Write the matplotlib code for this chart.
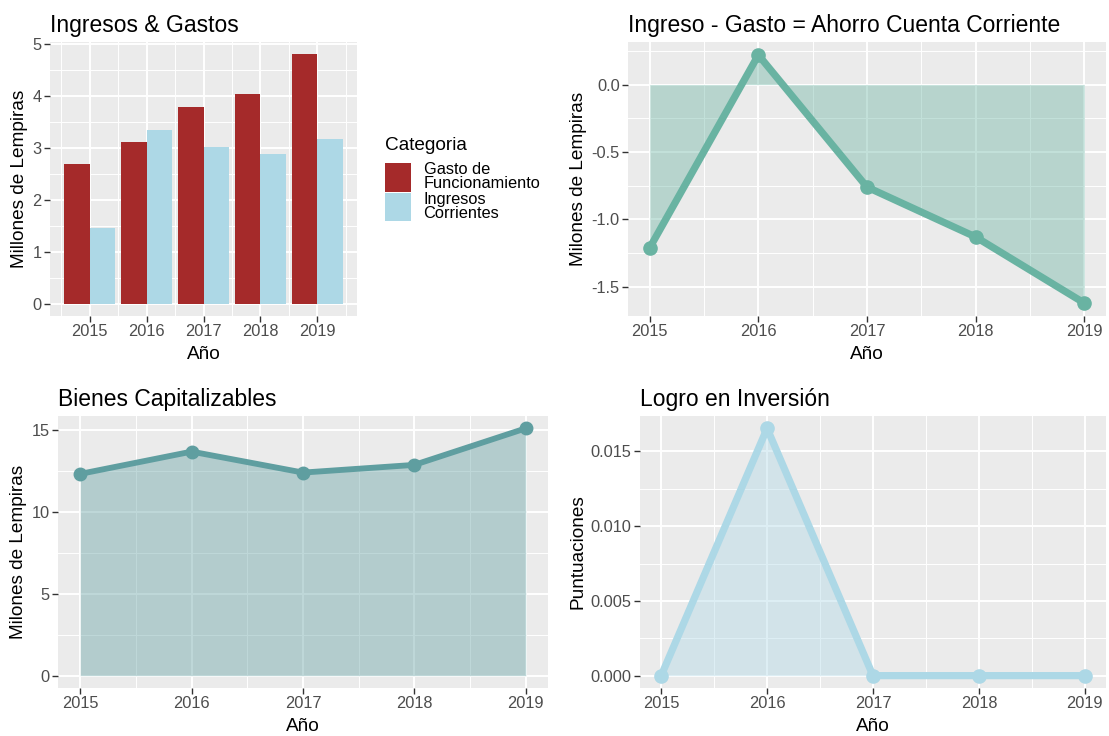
import numpy as np
import matplotlib.pyplot as plt
from matplotlib.ticker import FixedLocator, FormatStrFormatter

plt.rcParams['font.family'] = ['Liberation Sans', 'DejaVu Sans']
plt.rcParams['axes.unicode_minus'] = False

#data

years = np.array([2015, 2016, 2017, 2018, 2019])
gasto = [2.69, 3.10, 3.78, 4.03, 4.79]
ingresos = [1.46, 3.33, 3.01, 2.88, 3.16]
ahorro = [-1.21, 0.22, -0.76, -1.13, -1.62]
bienes = [12.32, 13.68, 12.40, 12.87, 15.10]
logro = [0.0, 0.01654, 0.0, 0.0, 0.0]

cat_labels = ['Gasto de\nFuncionamiento', 'Ingresos\nCorrientes']

W, H = 1109, 736
fig = plt.figure(figsize=(W/100, H/100), dpi=100)

def panel(x0, x1, y0, y1):
    return fig.add_axes([x0/W, 1 - y1/H, (x1 - x0)/W, (y1 - y0)/H])

#ggplot-like theme for one panel

def gg(ax, title, ylabel, yticks, yminor, xlim, ylim, fmt=None):
    ax.set_facecolor('#EBEBEB')
    for s in ax.spines.values():
        s.set_visible(False)
    ax.set_axisbelow(True)
    ax.set_xlim(*xlim)
    ax.set_ylim(*ylim)
    ax.xaxis.set_major_locator(FixedLocator(years))
    ax.xaxis.set_minor_locator(FixedLocator(np.arange(2014.5, 2020, 1.0)))
    ax.yaxis.set_major_locator(FixedLocator(yticks))
    ax.yaxis.set_minor_locator(FixedLocator(yminor))
    if fmt:
        ax.yaxis.set_major_formatter(FormatStrFormatter(fmt))
    ax.grid(which='major', color='white', linewidth=1.4)
    ax.grid(which='minor', color='white', linewidth=0.7)
    ax.tick_params(which='major', length=4, width=1, color='#333333',
                   labelcolor='#4D4D4D', labelsize=11.8, pad=2)
    ax.tick_params(which='minor', length=0)
    ax.set_title(title, loc='left', fontsize=16.5, pad=7)
    ax.set_xlabel('Año', fontsize=13.7, labelpad=4.5)
    ax.set_ylabel(ylabel, fontsize=13.7, labelpad=3)

#panel 1: bars

ax1 = panel(50, 357, 42, 316)
b1 = ax1.bar(years - 0.225, gasto, width=0.45, color='#A52A2A')
b2 = ax1.bar(years + 0.225, ingresos, width=0.45, color='#ADD8E6')
gg(ax1, 'Ingresos & Gastos', 'Millones de Lempiras', np.arange(0, 6),
   np.arange(0.5, 5.5, 1.0), (2014.305, 2019.695), (-0.24, 5.03))
leg = ax1.legend([b1, b2], cat_labels, title='Categoria', loc='upper left',
                 bbox_to_anchor=(385/W, 1 - 137/H), bbox_transform=fig.transFigure,
                 frameon=False, fontsize=11.8, title_fontsize=13.7, borderpad=0,
                 handlelength=1.6, handleheight=2.3, handletextpad=0.75,
                 labelspacing=0.0, borderaxespad=0, alignment='left')
for t in leg.get_texts():
    t.set_linespacing(0.9)
leg._legend_box.sep = 6

#panel 2: ahorro

ax2 = panel(628, 1106, 42, 316)
ax2.fill_between(years, ahorro, 0, color='#69B3A2', alpha=0.4, linewidth=0)
ax2.plot(years, ahorro, color='#69B3A2', linewidth=5.2, marker='o',
         markersize=9.5, solid_capstyle='round', solid_joinstyle='round')
gg(ax2, 'Ingreso - Gasto = Ahorro Cuenta Corriente', 'Milones de Lempiras',
   [-1.5, -1.0, -0.5, 0.0], [-1.25, -0.75, -0.25, 0.25],
   (2014.8, 2019.2), (-1.716, 0.316), fmt='%.1f')

#panel 3: bienes capitalizables

ax3 = panel(58, 548, 416, 688)
ax3.fill_between(years, bienes, 0, color='#5F9EA0', alpha=0.4, linewidth=0)
ax3.plot(years, bienes, color='#5F9EA0', linewidth=4.2, marker='o',
         markersize=9, solid_capstyle='round', solid_joinstyle='round')
gg(ax3, 'Bienes Capitalizables', 'Milones de Lempiras', [0, 5, 10, 15],
   [2.5, 7.5, 12.5], (2014.8, 2019.2), (-0.755, 15.855))

#panel 4: logro en inversion

ax4 = panel(640, 1106, 416, 688)
ax4.fill_between(years, logro, 0, color='#ADD8E6', alpha=0.4, linewidth=0)
ax4.plot(years, logro, color='#ADD8E6', linewidth=5.2, marker='o',
         markersize=9.5, solid_capstyle='round', solid_joinstyle='round')
gg(ax4, 'Logro en Inversión', 'Puntuaciones', [0, 0.005, 0.010, 0.015],
   [0.0025, 0.0075, 0.0125], (2014.8, 2019.2), (-0.000827, 0.017367),
   fmt='%.3f')

plt.savefig('out.png', dpi=100)
